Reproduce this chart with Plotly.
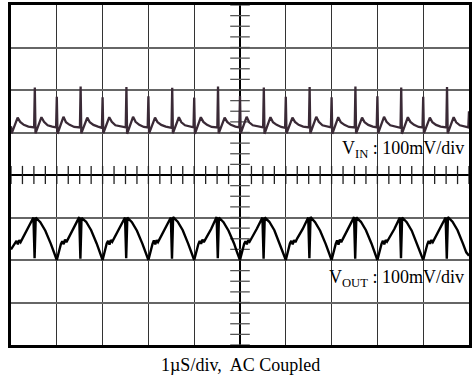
import numpy as np
import plotly.graph_objects as go

# Time in microseconds (1 us/div), centred on trigger; voltage in divisions (100 mV/div)
VIN_T = [
    -5.000, -4.985, -4.855, -4.800, -4.720, -4.620, -4.495, -4.480, -4.465, -4.335, -4.280, -4.200, -4.100, -4.015,
    -4.000, -3.985, -3.855, -3.800, -3.720, -3.620, -3.495, -3.480, -3.465, -3.335, -3.280, -3.200, -3.100, -3.015,
    -3.000, -2.985, -2.855, -2.800, -2.720, -2.620, -2.495, -2.480, -2.465, -2.335, -2.280, -2.200, -2.100, -2.015,
    -2.000, -1.985, -1.855, -1.800, -1.720, -1.620, -1.495, -1.480, -1.465, -1.335, -1.280, -1.200, -1.100, -1.015,
    -1.000, -0.985, -0.855, -0.800, -0.720, -0.620, -0.495, -0.480, -0.465, -0.335, -0.280, -0.200, -0.100, -0.015,
    0.000, 0.015, 0.145, 0.200, 0.280, 0.380, 0.505, 0.520, 0.535, 0.665, 0.720, 0.800, 0.900, 0.985,
    1.000, 1.015, 1.145, 1.200, 1.280, 1.380, 1.505, 1.520, 1.535, 1.665, 1.720, 1.800, 1.900, 1.985,
    2.000, 2.015, 2.145, 2.200, 2.280, 2.380, 2.505, 2.520, 2.535, 2.665, 2.720, 2.800, 2.900, 2.985,
    3.000, 3.015, 3.145, 3.200, 3.280, 3.380, 3.505, 3.520, 3.535, 3.665, 3.720, 3.800, 3.900, 3.985,
    4.000, 4.015, 4.145, 4.200, 4.280, 4.380, 4.505, 4.520, 4.535, 4.665, 4.720, 4.800, 4.900, 4.985,
    5.000,
]
VIN_V = [
    1.15, 0.98, 1.35, 1.25, 1.18, 1.14, 1.12, 2.06, 0.98, 1.36, 1.25, 1.17, 1.14, 1.12,
    1.84, 0.97, 1.37, 1.24, 1.18, 1.13, 1.12, 2.08, 0.98, 1.35, 1.24, 1.18, 1.14, 1.11,
    1.83, 0.98, 1.36, 1.25, 1.17, 1.14, 1.12, 2.07, 0.97, 1.37, 1.25, 1.18, 1.13, 1.12,
    1.85, 0.98, 1.35, 1.24, 1.18, 1.14, 1.11, 2.05, 0.98, 1.36, 1.24, 1.17, 1.14, 1.12,
    1.82, 0.97, 1.36, 1.25, 1.18, 1.13, 1.12, 2.08, 0.98, 1.35, 1.25, 1.18, 1.14, 1.12,
    1.86, 0.98, 1.37, 1.24, 1.17, 1.14, 1.12, 2.06, 0.97, 1.36, 1.24, 1.18, 1.13, 1.11,
    1.84, 0.98, 1.35, 1.25, 1.18, 1.14, 1.12, 2.07, 0.98, 1.37, 1.25, 1.17, 1.14, 1.12,
    1.83, 0.97, 1.36, 1.24, 1.18, 1.13, 1.12, 2.08, 0.98, 1.35, 1.24, 1.18, 1.14, 1.12,
    1.85, 0.98, 1.37, 1.25, 1.17, 1.14, 1.11, 2.06, 0.97, 1.36, 1.25, 1.18, 1.13, 1.12,
    1.84, 0.98, 1.35, 1.24, 1.18, 1.14, 1.12, 2.07, 0.98, 1.36, 1.24, 1.17, 1.14, 1.12,
    1.50,
]

VOUT_T = [
    -5.000, -4.910, -4.880, -4.850, -4.820, -4.790, -4.750, -4.630, -4.510, -4.485, -4.460, -4.360, -4.250, -4.130, -4.060,
    -4.000, -3.910, -3.880, -3.850, -3.820, -3.790, -3.750, -3.630, -3.510, -3.485, -3.460, -3.360, -3.250, -3.130, -3.060,
    -3.000, -2.910, -2.880, -2.850, -2.820, -2.790, -2.750, -2.630, -2.510, -2.485, -2.460, -2.360, -2.250, -2.130, -2.060,
    -2.000, -1.910, -1.880, -1.850, -1.820, -1.790, -1.750, -1.630, -1.510, -1.485, -1.460, -1.360, -1.250, -1.130, -1.060,
    -1.000, -0.910, -0.880, -0.850, -0.820, -0.790, -0.750, -0.630, -0.510, -0.485, -0.460, -0.360, -0.250, -0.130, -0.060,
    0.000, 0.090, 0.120, 0.150, 0.180, 0.210, 0.250, 0.370, 0.490, 0.515, 0.540, 0.640, 0.750, 0.870, 0.940,
    1.000, 1.090, 1.120, 1.150, 1.180, 1.210, 1.250, 1.370, 1.490, 1.515, 1.540, 1.640, 1.750, 1.870, 1.940,
    2.000, 2.090, 2.120, 2.150, 2.180, 2.210, 2.250, 2.370, 2.490, 2.515, 2.540, 2.640, 2.750, 2.870, 2.940,
    3.000, 3.090, 3.120, 3.150, 3.180, 3.210, 3.250, 3.370, 3.490, 3.515, 3.540, 3.640, 3.750, 3.870, 3.940,
    4.000, 4.090, 4.120, 4.150, 4.180, 4.210, 4.250, 4.370, 4.490, 4.515, 4.540, 4.640, 4.750, 4.870, 4.940,
    5.000,
]
VOUT_V = [
    -1.75, -1.62, -1.55, -1.63, -1.53, -1.58, -1.50, -1.27, -1.00, -1.96, -1.00, -1.11, -1.31, -1.62, -1.83,
    -2.00, -1.62, -1.56, -1.63, -1.52, -1.58, -1.50, -1.26, -0.99, -1.97, -1.01, -1.10, -1.30, -1.61, -1.82,
    -2.00, -1.61, -1.55, -1.64, -1.53, -1.57, -1.49, -1.27, -1.00, -1.96, -1.00, -1.11, -1.31, -1.62, -1.83,
    -2.00, -1.62, -1.54, -1.63, -1.53, -1.58, -1.50, -1.26, -1.00, -1.97, -0.99, -1.10, -1.30, -1.62, -1.82,
    -2.00, -1.63, -1.55, -1.62, -1.52, -1.58, -1.50, -1.27, -0.99, -1.96, -1.00, -1.11, -1.31, -1.61, -1.83,
    -2.00, -1.62, -1.56, -1.63, -1.53, -1.57, -1.50, -1.26, -1.00, -1.97, -1.00, -1.10, -1.30, -1.62, -1.82,
    -2.00, -1.61, -1.55, -1.63, -1.53, -1.58, -1.49, -1.27, -1.00, -1.96, -0.99, -1.11, -1.31, -1.62, -1.83,
    -2.00, -1.62, -1.54, -1.64, -1.52, -1.58, -1.50, -1.26, -0.99, -1.97, -1.00, -1.10, -1.30, -1.61, -1.82,
    -2.00, -1.62, -1.55, -1.63, -1.53, -1.57, -1.50, -1.27, -1.00, -1.96, -1.00, -1.11, -1.31, -1.62, -1.83,
    -2.00, -1.63, -1.55, -1.62, -1.53, -1.58, -1.50, -1.26, -1.00, -1.97, -0.99, -1.10, -1.30, -1.62, -1.82,
    -1.90,
]

VIN_LABEL = "V<sub>IN</sub> : 100mV/div"
VOUT_LABEL = "V<sub>OUT</sub> : 100mV/div"
CAPTION = "1\u00b5S/div,  AC Coupled"

FONT = "Liberation Serif, Times New Roman, serif"

fig = go.Figure()

# graticule minor ticks along the centre axes (4 per division)
tx = np.arange(-5, 5.001, 0.25)
ty = np.arange(-4, 4.001, 0.25)
fig.add_trace(go.Scatter(x=tx, y=np.zeros_like(tx), mode="markers", hoverinfo="skip",
                         marker=dict(symbol="line-ns", size=13, line=dict(width=1.3, color="#222")),
                         showlegend=False))
fig.add_trace(go.Scatter(x=np.zeros_like(ty), y=ty, mode="markers", hoverinfo="skip",
                         marker=dict(symbol="line-ew", size=14, line=dict(width=1.3, color="#555")),
                         showlegend=False))

fig.add_trace(go.Scatter(x=VIN_T, y=VIN_V, mode="lines", line=dict(color="#3a2a36", width=2.3),
                         showlegend=False))
fig.add_trace(go.Scatter(x=VOUT_T, y=VOUT_V, mode="lines", line=dict(color="#000000", width=2.4),
                         showlegend=False))

fig.update_xaxes(range=[-5, 5], dtick=1, tick0=0, showgrid=True, gridcolor="#333", gridwidth=1.2,
                 zeroline=True, zerolinecolor="#000", zerolinewidth=1.5,
                 showline=True, mirror=True, linecolor="#000", linewidth=2.5,
                 showticklabels=False, ticks="")
fig.update_yaxes(range=[-4, 4], dtick=1, tick0=0, showgrid=True, gridcolor="#666", gridwidth=1.5,
                 zeroline=True, zerolinecolor="#000", zerolinewidth=1.5,
                 showline=True, mirror=True, linecolor="#000", linewidth=2.5,
                 showticklabels=False, ticks="")

fig.add_annotation(x=0.993, y=0.574, xref="paper", yref="paper", text=VIN_LABEL, showarrow=False,
                   xanchor="right", yanchor="middle", font=dict(family=FONT, size=18, color="#000"))
fig.add_annotation(x=0.993, y=0.197, xref="paper", yref="paper", text=VOUT_LABEL, showarrow=False,
                   xanchor="right", yanchor="middle", font=dict(family=FONT, size=18, color="#000"))
fig.add_annotation(x=0.5, y=-0.058, xref="paper", yref="paper", text=CAPTION, showarrow=False,
                   xanchor="center", yanchor="middle", font=dict(family=FONT, size=18, color="#000"))

fig.update_layout(width=474, height=378, margin=dict(l=11, r=2, t=5, b=33),
                  plot_bgcolor="white", paper_bgcolor="white")

fig.write_html("out.html", config={"displayModeBar": False},
               post_script="document.body.style.margin='0';document.body.style.overflow='hidden';")
